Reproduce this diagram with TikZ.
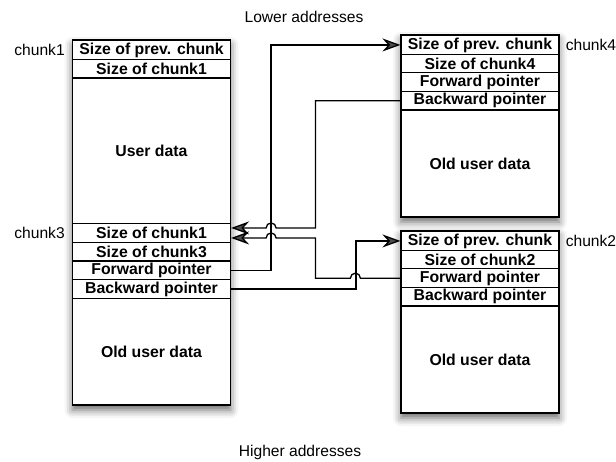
\documentclass[tikz,border=0pt]{standalone}
\usepackage{fontspec}
\setmainfont{Liberation Sans}
\usetikzlibrary{arrows.meta,calc,shadows.blur}
\newcommand\cellfnt{\fontsize{15.8}{18}\selectfont\bfseries}
\newcommand\lblfnt{\fontsize{15.6}{18}\selectfont}
\tikzset{
  cell/.style={draw, line width=1.2pt, minimum width=158pt, minimum height=18.7pt, inner sep=0pt, anchor=north, font=\cellfnt, fill=white},
  chunkbg/.style={fill=white, draw, line width=1.5pt, blur shadow={shadow xshift=0pt, shadow yshift=-5pt, shadow blur radius=8pt, shadow opacity=60}},
  lbl/.style={font=\lblfnt, inner sep=0pt},
  arr/.style={line width=1.3pt, -{Stealth[length=18pt,width=13pt,inset=6pt]}},
  conn/.style={line width=1.3pt}
}
\begin{document}
\begin{tikzpicture}[x=1pt,y=1pt]
\useasboundingbox (0,0) rectangle (616,-461);
% background boxes with shadows
\path[chunkbg] (72.5,-40) rectangle (230.5,-405);
\path[chunkbg] (401,-35) rectangle (559,-217);
\path[chunkbg] (401,-231) rectangle (559,-413);
% left chunk (chunk1 / chunk3)
\node[cell] (L1) at (151.5,-40) {Size of prev. chunk};
\node[cell] (L2) at (151.5,-58.7) {Size of chunk1};
\node[cell, minimum height=145.6pt] (Lud) at (151.5,-77.4) {User data};
\node[cell] (L3) at (151.5,-223) {Size of chunk1};
\node[cell] (L4) at (151.5,-241.7) {Size of chunk3};
\node[cell] (L5) at (151.5,-260.4) {Forward pointer};
\node[cell] (L6) at (151.5,-279.1) {Backward pointer};
\node[cell, minimum height=107.2pt] (Lold) at (151.5,-297.8) {Old user data};
\draw[line width=1.5pt] (72.5,-40) rectangle (230.5,-405);
% chunk4
\node[cell] (R4a) at (480,-35) {Size of prev. chunk};
\node[cell] (R4b) at (480,-53.6) {Size of chunk4};
\node[cell] (R4c) at (480,-72.2) {Forward pointer};
\node[cell] (R4d) at (480,-90.8) {Backward pointer};
\node[cell, minimum height=107.6pt] (R4e) at (480,-109.4) {Old user data};
\draw[line width=1.5pt] (401,-35) rectangle (559,-217);
% chunk2
\node[cell] (R2a) at (480,-231) {Size of prev. chunk};
\node[cell] (R2b) at (480,-249.6) {Size of chunk2};
\node[cell] (R2c) at (480,-268.2) {Forward pointer};
\node[cell] (R2d) at (480,-286.8) {Backward pointer};
\node[cell, minimum height=107.6pt] (R2e) at (480,-305.4) {Old user data};
\draw[line width=1.5pt] (401,-231) rectangle (559,-413);
% labels
\node[lbl, anchor=east] (lc1) at ($(L1.west)+(-7,0)$) {chunk1};
\node[lbl, anchor=east] (lc3) at ($(L3.west)+(-7,0)$) {chunk3};
\node[lbl, anchor=west] (lc4) at ($(R4a.east)+(6,0)$) {chunk4};
\node[lbl, anchor=west] (lc2) at ($(R2a.east)+(6,0)$) {chunk2};
\node[lbl] (low) at (304,-17) {Lower addresses};
\node[lbl] (high) at (300,-452) {Higher addresses};
% connectors
\draw[arr] (L5.east) -- ++(40,0) |- (R4a.west);
\draw[arr] (R4d.west) -- ++(-85,0) |- ($(L3.east)+(45,5)$) arc (0:180:5) -- ($(L3.east)+(0,5)$);
\draw[arr] (R2c.west) -- ($(R2c.west)+(-40,0)$) arc (0:180:5) -- ($(R2c.west)+(-85,0)$) |- ($(L3.east)+(45,-5)$) arc (0:180:5) -- ($(L3.east)+(0,-5)$);
\draw[arr] (L6.east) -- ++(125,0) |- (R2a.west);
\end{tikzpicture}
\end{document}
